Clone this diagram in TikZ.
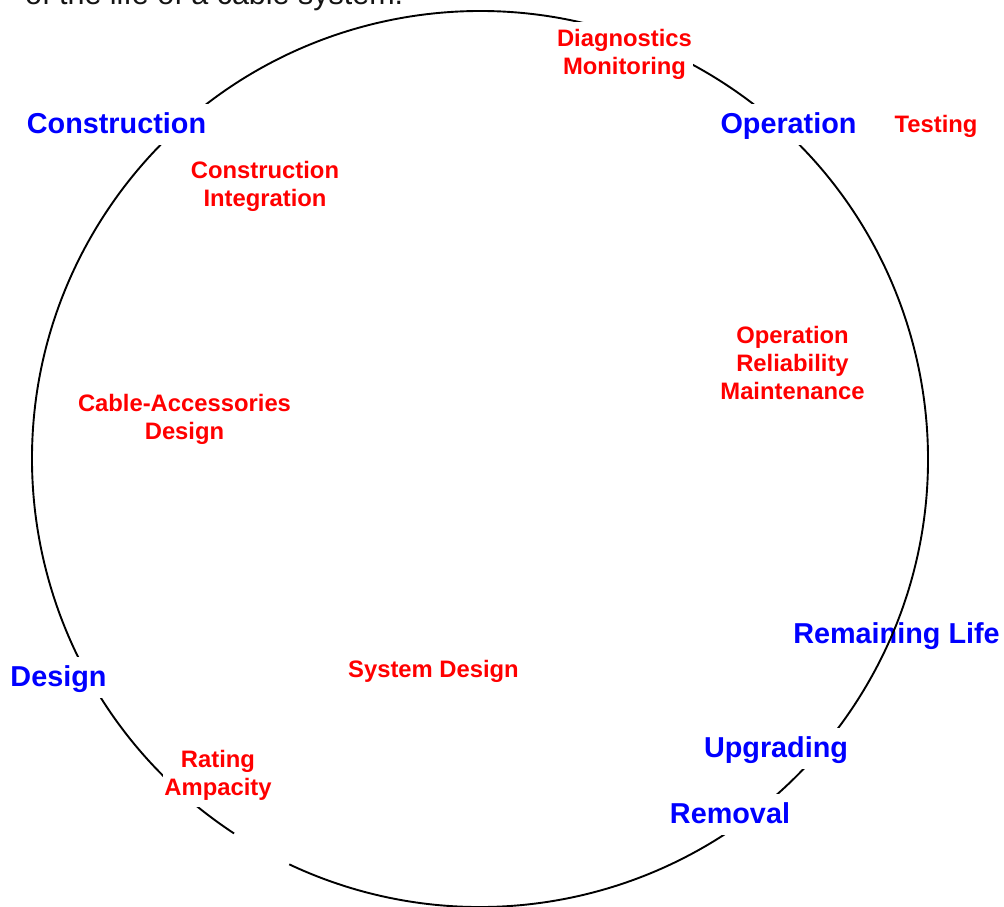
\documentclass[tikz,border=0pt]{standalone}
\usepackage{fontspec}
\setmainfont{Liberation Sans}
\newcommand{\mlines}[1]{\begin{tabular}[t]{@{}c@{}}#1\end{tabular}}
\begin{document}
\begin{tikzpicture}[x=1pt,y=-1pt,
  bluelabel/.style={font=\bfseries\fontsize{28.8}{34}\selectfont, text={rgb,255:red,0;green,0;blue,255}, anchor=base, inner xsep=2pt, inner ysep=3.5pt, text height=26pt, text depth=8pt},
  bluefill/.style={bluelabel, fill=white},
  redlabel/.style={font=\bfseries\fontsize{23.8}{28}\selectfont, text={rgb,255:red,255;green,0;blue,0}, anchor=base, inner xsep=1pt, inner ysep=4pt},
  redfill/.style={redlabel, fill=white},
  ring/.style={line width=1.9pt, black}]
\useasboundingbox (0,0) rectangle (1004,906);
\clip (0,0) rectangle (1004,906);
\fill[white] (0,0) rectangle (1004,906);
% cut-off title line
\node[anchor=base west, inner sep=0, font=\fontsize{30.5}{36}\selectfont, text={rgb,255:red,20;green,20;blue,20}] (title) at (25,4) {of the life of a cable system.};
% label without mask
\node[bluelabel] (remlife) at (896.5,643) {Remaining Life};
% the cycle
\coordinate (ctr) at (480,459);
\draw[ring] (ctr) ++(123.3:448) arc[start angle=123.3, end angle=475.2, radius=448];
% stage labels (masking the ring)
\node[bluefill] (construction) at (116.5,133) {Construction};
\node[bluefill] (operation) at (788.5,133) {Operation};
\node[bluefill] (design) at (58.5,686) {Design};
\node[bluefill] (upgrading) at (776,757) {Upgrading};
\node[bluefill] (removal) at (730,823) {Removal};
% topic labels
\node[redfill] (diag) at (624.5,46) {\mlines{Diagnostics\\Monitoring}};
\node[redlabel] (testing) at (936,132) {Testing};
\node[redlabel] (constint) at (265,178) {\mlines{Construction\\Integration}};
\node[redlabel] (orm) at (792.5,343) {\mlines{Operation\\Reliability\\Maintenance}};
\node[redlabel] (cad) at (184.5,411) {\mlines{Cable-Accessories\\Design}};
\node[redlabel] (sysdes) at (433.5,677) {System Design};
\node[redfill] (rating) at (218,767) {\mlines{Rating\\Ampacity}};
\end{tikzpicture}
\end{document}
